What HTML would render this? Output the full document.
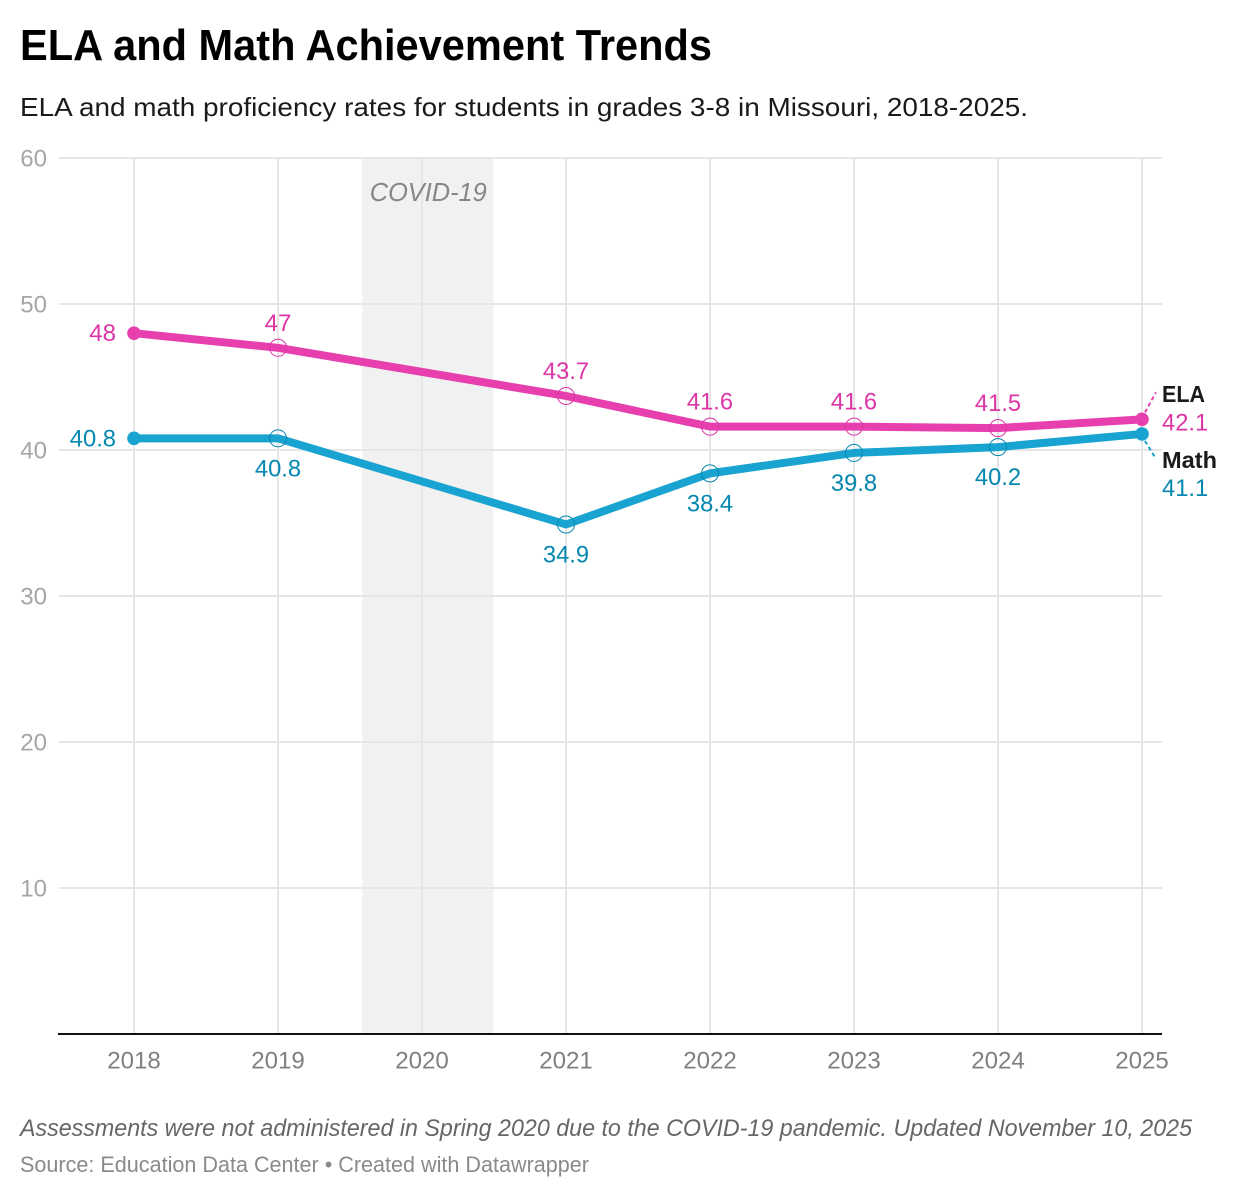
<!DOCTYPE html>
<html lang="en">
<head>
<meta charset="utf-8">
<title>ELA and Math Achievement Trends</title>
<style>
html,body{margin:0;padding:0;background:#fff;width:1238px;height:1198px;overflow:hidden}
svg{display:block;font-family:"Liberation Sans",sans-serif}
</style>
</head>
<body>
<svg id="chart" width="1238" height="1198" viewBox="0 0 1238 1198" xmlns="http://www.w3.org/2000/svg">
<rect width="1238" height="1198" fill="#fff"/>
<text x="20" y="60" font-size="44" font-weight="700" fill="#000" textLength="692" lengthAdjust="spacingAndGlyphs">ELA and Math Achievement Trends</text>
<text x="20" y="116" font-size="26" fill="#1a1a1a" textLength="1008" lengthAdjust="spacingAndGlyphs">ELA and math proficiency rates for students in grades 3-8 in Missouri, 2018-2025.</text>
<g id="plot"></g>
<text x="20" y="1136" font-size="24" font-style="italic" fill="#666" textLength="1172" lengthAdjust="spacingAndGlyphs">Assessments were not administered in Spring 2020 due to the COVID-19 pandemic. Updated November 10, 2025</text>
<text x="20" y="1172" font-size="22" fill="#8a8a8a" textLength="569" lengthAdjust="spacingAndGlyphs">Source: Education Data Center • Created with Datawrapper</text>
</svg>
<script>
const years = [2018, 2019, 2020, 2021, 2022, 2023, 2024, 2025];
const elaValues = [48, 47, null, 43.7, 41.6, 41.6, 41.5, 42.1];
const mathValues = [40.8, 40.8, null, 34.9, 38.4, 39.8, 40.2, 41.1];
const yTicks = [10, 20, 30, 40, 50, 60];
const covidBand = [2019.585, 2020.495];

const svgNS = 'http://www.w3.org/2000/svg';
const plot = document.getElementById('plot');
const xScale = function (year) { return 134 + (year - 2018) * 144; };
const yScale = function (value) { return 1034 - value * 14.6; };

function make(tag, attrs, text) {
  const el = document.createElementNS(svgNS, tag);
  Object.keys(attrs).forEach(function (k) { el.setAttribute(k, attrs[k]); });
  if (text !== undefined) el.textContent = text;
  plot.appendChild(el);
  return el;
}

// Numbers: slightly taller glyphs squeezed to the reference's advance widths.
function numAttrs(str, attrs) {
  const digits = str.replace(/[^0-9]/g, '').length;
  const dots = str.length - digits;
  attrs['font-size'] = 24.5;
  attrs.textLength = digits * 13.4 + dots * 6;
  attrs.lengthAdjust = 'spacingAndGlyphs';
  return attrs;
}

const band = make('rect', {
  x: xScale(covidBand[0]), y: yScale(60),
  width: xScale(covidBand[1]) - xScale(covidBand[0]),
  height: yScale(0) - yScale(60), fill: '#f1f1f1'
});



yTicks.forEach(function (t) {
  const g = make('line', { x1: 59, x2: 1162, y1: yScale(t), y2: yScale(t), stroke: '#e6e6e6', 'stroke-width': 2 });
  
  
  const l = make('text', numAttrs(String(t), { x: 47, y: yScale(t) + 8.5, 'text-anchor': 'end', fill: '#a6a6a6' }), String(t));
  
  
});

years.forEach(function (yr) {
  const g = make('line', { x1: xScale(yr), x2: xScale(yr), y1: yScale(60), y2: yScale(0), stroke: '#e6e6e6', 'stroke-width': 2 });
  
  
  const l = make('text', numAttrs(String(yr), { x: xScale(yr), y: 1068.5, 'text-anchor': 'middle', fill: '#808080' }), String(yr));
  
  
});

const axisLine = make('line', { x1: 58, x2: 1162, y1: yScale(0), y2: yScale(0), stroke: '#111', 'stroke-width': 2 });



const covidLabel = make('text', {
  x: (xScale(covidBand[0]) + xScale(covidBand[1])) / 2 + 0.5, y: 201, 'text-anchor': 'middle',
  'font-size': 26, 'font-style': 'italic', fill: '#868686', textLength: 117, lengthAdjust: 'spacingAndGlyphs'
}, 'COVID-19');



function drawSeries(values, lineColor, labelColor, labelOffset, seriesKey) {
  const pts = [];
  values.forEach(function (v, i) {
    if (v !== null) pts.push([xScale(years[i]), yScale(v), v]);
  });
  const line = make('polyline', {
    points: pts.map(function (p) { return p[0] + ',' + p[1]; }).join(' '),
    fill: 'none', stroke: lineColor, 'stroke-width': 8, 'stroke-linejoin': 'round'
  });
  
  

  pts.forEach(function (p, i) {
    const isEnd = i === 0 || i === pts.length - 1;
    const dot = make('circle', isEnd
      ? { cx: p[0], cy: p[1], r: 6.8, fill: lineColor }
      : { cx: p[0], cy: p[1], r: 8.5, fill: 'none', stroke: labelColor, 'stroke-width': 1 });
    
    
    if (i === pts.length - 1) return;
    const str = String(p[2]);
    const label = make('text', numAttrs(str, i === 0
      ? { x: p[0] - 18, y: p[1] + 8, 'text-anchor': 'end', fill: labelColor }
      : { x: p[0], y: p[1] + labelOffset + 8, 'text-anchor': 'middle', fill: labelColor }), str);
    
    
  });
}

drawSeries(elaValues, '#e83fae', '#dd35a6', -25, 'ela');
drawSeries(mathValues, '#18a3d0', '#0488b0', 30, 'math');

const lastX = xScale(years[years.length - 1]);
const elaLast = elaValues[elaValues.length - 1];
const mathLast = mathValues[mathValues.length - 1];

const elaLeader = make('line', { x1: lastX + 3, y1: yScale(elaLast) - 7, x2: lastX + 14, y2: yScale(elaLast) - 27, stroke: '#e83fae', 'stroke-width': 2, 'stroke-dasharray': '4 3' });


const mathLeader = make('line', { x1: lastX + 3, y1: yScale(mathLast) + 7, x2: lastX + 14, y2: yScale(mathLast) + 25, stroke: '#18a3d0', 'stroke-width': 2, 'stroke-dasharray': '4 3' });



const elaName = make('text', { x: lastX + 20, y: yScale(elaLast) - 17.5, 'font-size': 23.5, 'font-weight': 700, fill: '#1a1a1a', textLength: 43, lengthAdjust: 'spacingAndGlyphs' }, 'ELA');


const elaEndStr = String(elaLast);
const elaEnd = make('text', numAttrs(elaEndStr, { x: lastX + 20, y: yScale(elaLast) + 11, fill: '#dd35a6' }), elaEndStr);


const mathName = make('text', { x: lastX + 20, y: yScale(mathLast) + 34, 'font-size': 23.5, 'font-weight': 700, fill: '#1a1a1a', textLength: 55, lengthAdjust: 'spacingAndGlyphs' }, 'Math');


const mathEndStr = String(mathLast);
const mathEnd = make('text', numAttrs(mathEndStr, { x: lastX + 20, y: yScale(mathLast) + 62, fill: '#0488b0' }), mathEndStr);


</script>
</body>
</html>
